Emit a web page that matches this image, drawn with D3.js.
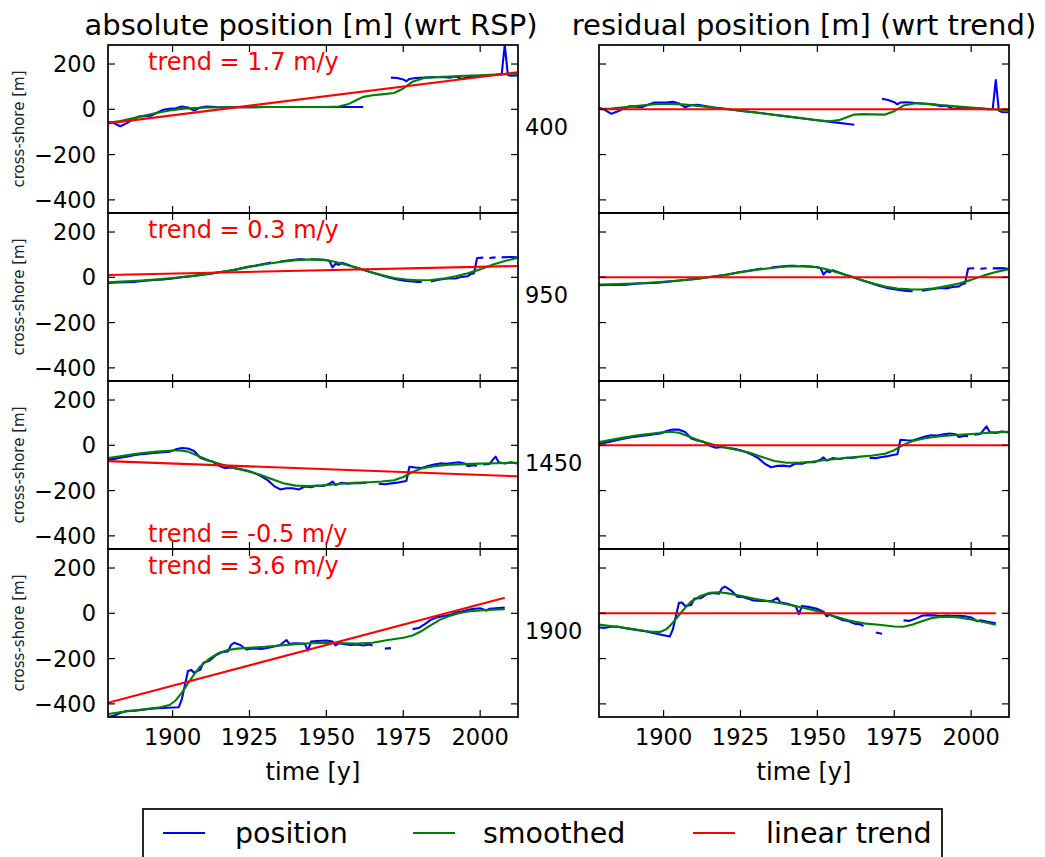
<!DOCTYPE html>
<html>
<head>
<meta charset="utf-8">
<script src="https://cdn.jsdelivr.net/npm/d3@7"></script>
<style>
  body { margin: 0; background: #fff; }
  svg { font-family: "DejaVu Sans", sans-serif; }
</style>
</head>
<body>
<svg width="1045" height="857"></svg>
<script>
// transects and their linear trends
const transects = ['400', '950', '1450', '1900'];
const trendRates = ['1.7', '0.3', '-0.5', '3.6'];
const trendYears = [[1879, 2012], [1879, 2012], [1879, 2012], [1879, 2008]];
const trendValues = [[-62, 163], [10, 50], [-70, -137], [-395, 69]];

const xTicks = [1900, 1925, 1950, 1975, 2000];
const yTicks = [-400, -200, 0, 200];

// [year, cross-shore position], null = gap in record
const pos400 = [[1879,-55],[1881,-62],[1883,-75],[1885,-62],[1887,-45],[1889,-32],[1891,-30],[1893,-28],[1895,-15],[1897,-2],[1899,2],[1901,5],[1903,12],[1905,8],[1907,-6],[1909,8],[1911,12],[1914,10],[1918,9],[1922,10],[1926,9],[1930,10],[1935,10],[1940,10],[1945,10],[1950,10],[1955,10],[1960,10],[1962,10],[1963,null],[1971,140],[1973,138],[1975,132],[1976,124],[1977,134],[1979,138],[1982,140],[1985,142],[1988,143],[1990,140],[1992,145],[1994,135],[1996,142],[1999,145],[2002,150],[2005,152],[2007,155],[2008,285],[2009,152],[2010,148],[2012,150]];
const smo400 = [[1879,-60],[1883,-52],[1887,-40],[1891,-27],[1895,-15],[1899,-5],[1903,2],[1907,6],[1912,8],[1920,9],[1930,10],[1940,10],[1950,10],[1954,12],[1957,22],[1960,42],[1962,55],[1965,62],[1968,66],[1972,72],[1975,92],[1978,122],[1982,139],[1986,143],[1990,145],[1995,148],[2000,150],[2005,153],[2012,158]];

const pos950 = [[1879,-25],[1882,-23],[1885,-22],[1888,-20],[1891,-15],[1894,-12],[1897,-10],[1900,-5],[1903,0],[1906,5],[1909,10],[1912,15],[1915,22],[1918,28],[1921,35],[1924,45],[1927,52],[1930,60],[1932,65],[1934,null],[1935,70],[1938,75],[1941,80],[1943,80],[1944,null],[1945,80],[1948,78],[1950,76],[1951,72],[1952,44],[1953,60],[1954,55],[1955,64],[1957,55],[1959,45],[1961,38],[1964,25],[1967,12],[1970,0],[1973,-10],[1976,-16],[1979,-20],[1981,-21],[1983,null],[1984,-18],[1987,-10],[1990,-4],[1992,-5],[1994,2],[1996,5],[1997,15],[1998,18],[1999,85],[2001,87],[2002,null],[2003,85],[2005,88],[2006,null],[2007,88],[2010,90],[2012,88]];
const smo950 = [[1879,-22],[1885,-18],[1890,-14],[1895,-9],[1900,-3],[1905,4],[1910,12],[1915,22],[1920,33],[1925,46],[1930,58],[1935,68],[1940,76],[1945,79],[1950,76],[1953,68],[1956,57],[1960,42],[1964,25],[1968,10],[1972,-3],[1976,-10],[1980,-13],[1984,-12],[1988,-6],[1992,5],[1996,18],[2000,35],[2004,55],[2008,72],[2012,85]];

const pos1450 = [[1879,-62],[1881,-60],[1883,-55],[1885,-50],[1887,-45],[1889,-40],[1891,-38],[1893,-35],[1895,-33],[1897,-30],[1899,-28],[1901,-18],[1903,-12],[1905,-14],[1907,-25],[1909,-55],[1911,-65],[1913,-72],[1915,-90],[1917,-100],[1919,-98],[1921,-103],[1923,-108],[1925,-115],[1927,-125],[1929,-138],[1931,-155],[1933,-180],[1935,-195],[1937,-190],[1939,-190],[1941,-195],[1943,-182],[1945,-185],[1947,-178],[1949,-180],[1951,-170],[1952,-160],[1953,-175],[1955,-165],[1957,-170],[1959,-166],[1961,-167],[1963,-165],[1964,null],[1967,-170],[1969,-172],[1971,-168],[1973,-165],[1975,-160],[1976,-158],[1977,-95],[1979,-98],[1981,-100],[1983,-92],[1985,-85],[1987,-80],[1989,-82],[1991,-78],[1993,-75],[1995,-80],[1996,-92],[1998,-88],[1999,-90],[2000,null],[2001,-85],[2003,-82],[2005,-50],[2006,-75],[2008,-80],[2010,-75],[2012,-80]];
const smo1450 = [[1879,-56],[1883,-48],[1887,-40],[1891,-33],[1895,-28],[1899,-24],[1902,-22],[1905,-28],[1908,-45],[1912,-68],[1916,-85],[1920,-100],[1924,-113],[1928,-128],[1932,-148],[1936,-168],[1940,-178],[1944,-180],[1948,-178],[1952,-173],[1956,-169],[1960,-166],[1964,-163],[1968,-160],[1972,-154],[1975,-140],[1978,-118],[1981,-102],[1985,-92],[1990,-86],[1995,-83],[2000,-81],[2005,-79],[2012,-77]];

const pos1900 = [[1879,-458],[1881,-452],[1883,-440],[1885,-432],[1888,-430],[1891,-425],[1894,-420],[1897,-418],[1900,-416],[1902,-415],[1903,-380],[1905,-255],[1906,-250],[1907,-262],[1909,-250],[1910,-218],[1912,-210],[1914,-185],[1916,-172],[1918,-168],[1919,-140],[1920,-130],[1922,-140],[1924,-160],[1926,-155],[1929,-158],[1932,-150],[1935,-140],[1937,-118],[1938,-135],[1940,-132],[1943,-135],[1944,-165],[1945,-125],[1947,-122],[1950,-120],[1952,-125],[1953,-142],[1954,-132],[1956,-136],[1958,-140],[1960,-138],[1962,-142],[1964,-138],[1965,-142],[1966,null],[1969,-156],[1971,-154],[1972,null],[1978,-70],[1980,-65],[1982,-48],[1984,-28],[1986,-18],[1988,-12],[1990,-8],[1992,2],[1994,8],[1996,15],[1998,20],[2000,22],[2002,12],[2003,20],[2005,22],[2008,25]];
const smo1900 = [[1879,-445],[1884,-435],[1888,-428],[1892,-422],[1896,-415],[1899,-405],[1901,-385],[1903,-350],[1905,-310],[1907,-270],[1909,-235],[1912,-200],[1915,-175],[1918,-162],[1921,-156],[1925,-152],[1930,-148],[1935,-142],[1940,-136],[1945,-132],[1950,-130],[1955,-132],[1960,-134],[1965,-130],[1970,-118],[1975,-108],[1978,-98],[1981,-78],[1984,-52],[1987,-28],[1990,-12],[1993,0],[1996,8],[2000,13],[2004,16],[2008,18]];

const positions = [pos400, pos950, pos1450, pos1900];
const smoothed = [smo400, smo950, smo1450, smo1900];

const svg = d3.select('svg');

const panelTops = [45, 213, 381, 549];
const panelH = 168;
const leftX = 108, rightX = 599, panelW = 410;
const blue = '#0000ff', green = '#008000', red = '#ff0000';
const lw = 2.1;

const xLeft = d3.scaleLinear().domain([1879, 2012.3]).range([leftX, leftX + panelW]);
const xRight = d3.scaleLinear().domain([1879, 2012.3]).range([rightX, rightX + panelW]);

// linear trend value at a given year
function trendAt(i, year) {
    const [y0, y1] = trendYears[i];
    const [v0, v1] = trendValues[i];
    return v0 + (year - y0) * (v1 - v0) / (y1 - y0);
}

function drawPanel(i, x, top, absolute) {
    const y = d3.scaleLinear().domain([-458, 284]).range([top + panelH, top]);
    const x0 = x.range()[0];
    const clipId = `clip-${i}-${absolute ? 'a' : 'r'}`;
    svg.append('clipPath').attr('id', clipId)
        .append('rect')
            .attr('x', x0).attr('y', top)
            .attr('width', panelW).attr('height', panelH);

    const g = svg.append('g');
    const plot = g.append('g').attr('clip-path', `url(#${clipId})`);

    const line = d3.line()
        .defined(d => d[1] != null)
        .x(d => x(d[0]))
        .y(d => y(d[1]));

    const shift = d => absolute ? d : [d[0], d[1] == null ? null : d[1] - trendAt(i, d[0])];

    plot.append('path')
        .attr('d', line(positions[i].map(shift)))
        .attr('fill', 'none').attr('stroke', blue).attr('stroke-width', lw)
        .attr('stroke-linejoin', 'round');

    plot.append('path')
        .attr('d', line(smoothed[i].map(shift)))
        .attr('fill', 'none').attr('stroke', green).attr('stroke-width', lw)
        .attr('stroke-linejoin', 'round');

    const trendLine = trendYears[i].map((yr, k) => absolute ? [yr, trendValues[i][k]] : [yr, 0]);
    plot.append('path')
        .attr('d', line(trendLine))
        .attr('fill', 'none').attr('stroke', red).attr('stroke-width', lw);

    // inward ticks on all four sides
    const tl = 7;
    yTicks.forEach(t => {
        g.append('line').attr('x1', x0).attr('x2', x0 + tl)
            .attr('y1', y(t)).attr('y2', y(t)).attr('stroke', '#000').attr('stroke-width', 1.2);
        g.append('line').attr('x1', x0 + panelW).attr('x2', x0 + panelW - tl)
            .attr('y1', y(t)).attr('y2', y(t)).attr('stroke', '#000').attr('stroke-width', 1.2);
    });
    xTicks.forEach(t => {
        g.append('line').attr('x1', x(t)).attr('x2', x(t))
            .attr('y1', top).attr('y2', top + tl).attr('stroke', '#000').attr('stroke-width', 1.2);
        g.append('line').attr('x1', x(t)).attr('x2', x(t))
            .attr('y1', top + panelH).attr('y2', top + panelH - tl).attr('stroke', '#000').attr('stroke-width', 1.2);
    });

    g.append('rect')
        .attr('x', x0).attr('y', top).attr('width', panelW).attr('height', panelH)
        .attr('fill', 'none').attr('stroke', '#000').attr('stroke-width', 1.7);

    if (absolute) {
        yTicks.forEach(t => {
            g.append('text')
                .attr('x', x0 - 12).attr('y', y(t))
                .attr('dy', '0.36em')
                .attr('text-anchor', 'end')
                .attr('font-size', 22.5)
                .text(t < 0 ? '\u2212' + Math.abs(t) : t);
        });
        g.append('text')
            .attr('transform', `translate(19, ${top + panelH / 2}) rotate(-90)`)
            .attr('text-anchor', 'middle')
            .attr('dy', '0.35em')
            .attr('font-size', 15)
            .attr('fill', '#222')
            .text('cross-shore [m]');
        const atBottom = trendRates[i].startsWith('-');
        g.append('text')
            .attr('x', x0 + 40)
            .attr('y', atBottom ? top + panelH - 7 : top + 25)
            .attr('font-size', 24)
            .attr('fill', red)
            .text(`trend = ${trendRates[i]} m/y`);
        g.append('text')
            .attr('x', 525).attr('y', top + panelH / 2 - 2)
            .attr('dy', '0.36em')
            .attr('font-size', 22.5)
            .text(transects[i]);
    }

    if (top === panelTops[panelTops.length - 1]) {
        xTicks.forEach(t => {
            g.append('text')
                .attr('x', x(t)).attr('y', top + panelH + 28)
                .attr('text-anchor', 'middle')
                .attr('font-size', 22.5)
                .text(t);
        });
        g.append('text')
            .attr('x', x0 + panelW / 2).attr('y', 780)
            .attr('text-anchor', 'middle')
            .attr('font-size', 24)
            .text('time [y]');
    }
}

transects.forEach((t, i) => {
    drawPanel(i, xLeft, panelTops[i], true);
    drawPanel(i, xRight, panelTops[i], false);
});

svg.append('text')
    .attr('x', leftX + panelW / 2 - 2).attr('y', 35)
    .attr('text-anchor', 'middle')
    .attr('font-size', 29)
    .text('absolute position [m] (wrt RSP)');

svg.append('text')
    .attr('x', rightX + panelW / 2).attr('y', 35)
    .attr('text-anchor', 'middle')
    .attr('font-size', 29)
    .text('residual position [m] (wrt trend)');

// legend
const legendLabels = ['position', 'smoothed', 'linear trend'];
const legendColors = [blue, green, red];
const legendX = [163, 413, 693];
const legendText = [235, 483, 766];

const legend = svg.append('g');
legend.append('rect')
    .attr('x', 143).attr('y', 809).attr('width', 799).attr('height', 80)
    .attr('fill', '#fff').attr('stroke', '#000').attr('stroke-width', 1.7);

legendLabels.forEach((label, k) => {
    legend.append('line')
        .attr('x1', legendX[k]).attr('x2', legendX[k] + 42)
        .attr('y1', 833).attr('y2', 833)
        .attr('stroke', legendColors[k]).attr('stroke-width', lw);
    legend.append('text')
        .attr('x', legendText[k]).attr('y', 843)
        .attr('font-size', 28.5)
        .text(label);
});
</script>
</body>
</html>
